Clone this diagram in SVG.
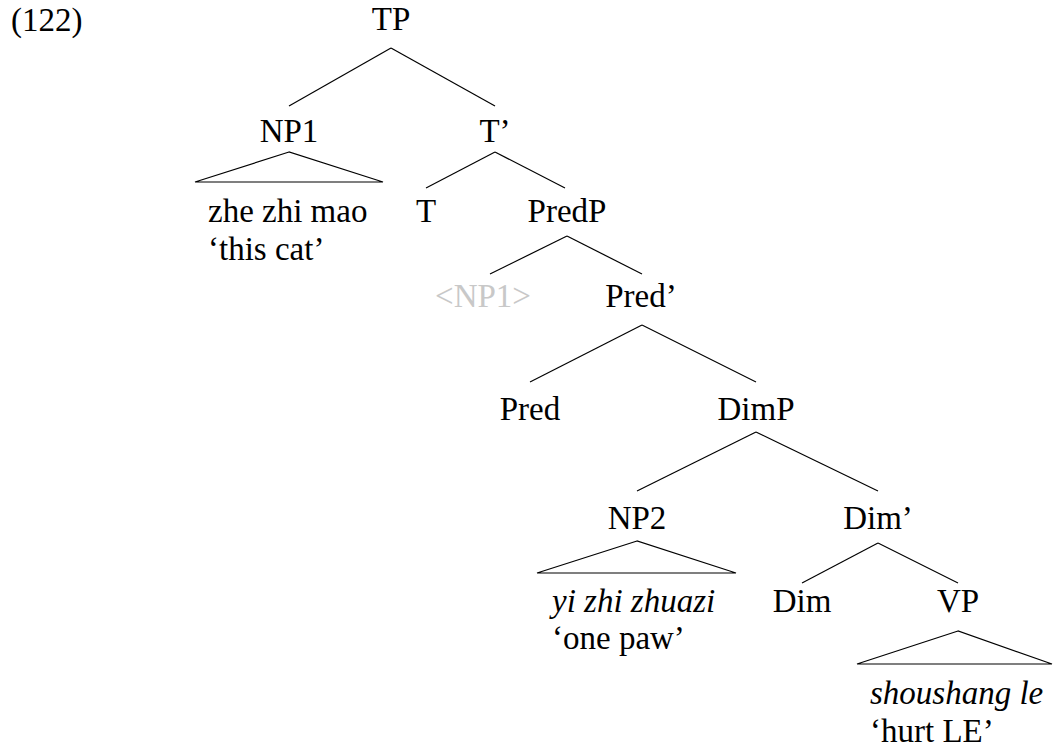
<svg xmlns="http://www.w3.org/2000/svg" width="1053" height="756" viewBox="0 0 1053 756">
<rect width="1053" height="756" fill="#fff"/>
<g font-family="Liberation Serif" font-size="33" fill="#000">
<text x="11" y="31">(122)</text>
<g id="connectors" stroke="#000" stroke-width="1.2" fill="none">
<line x1="391" y1="48" x2="289" y2="106"/>
<line x1="391" y1="48" x2="495" y2="106"/>
<line x1="495" y1="152" x2="426" y2="188"/>
<line x1="495" y1="152" x2="565" y2="188"/>
<line x1="567" y1="236" x2="490" y2="274"/>
<line x1="567" y1="236" x2="642" y2="274"/>
<line x1="642" y1="325" x2="530" y2="382"/>
<line x1="642" y1="325" x2="756" y2="382"/>
<line x1="756" y1="432" x2="637" y2="491"/>
<line x1="756" y1="432" x2="878" y2="491"/>
<line x1="878" y1="543" x2="802" y2="583"/>
<line x1="878" y1="543" x2="958" y2="583"/>
</g>
<g id="TP"><text text-anchor="middle" x="391" y="30">TP</text></g>
<g id="NP1"><text text-anchor="middle" x="289" y="142">NP1</text><polygon points="289,152 195,182 383,182" stroke="#000" stroke-width="1.2" fill="none"/><text x="208" y="222">zhe zhi mao</text><text x="208" y="260">‘this cat’</text></g>
<g id="Tbar"><text text-anchor="middle" x="495" y="142">T’</text></g>
<g id="T"><text text-anchor="middle" x="426" y="222">T</text></g>
<g id="PredP"><text text-anchor="middle" x="567" y="222">PredP</text></g>
<g id="NP1trace"><text text-anchor="middle" fill="#c8c8c8" x="483" y="307">&lt;NP1&gt;</text></g>
<g id="Predbar"><text text-anchor="middle" x="641" y="307">Pred’</text></g>
<g id="Pred"><text text-anchor="middle" x="530" y="420">Pred</text></g>
<g id="DimP"><text text-anchor="middle" x="756" y="420">DimP</text></g>
<g id="NP2"><text text-anchor="middle" x="637" y="529">NP2</text><polygon points="637,541 537,573 736,573" stroke="#000" stroke-width="1.2" fill="none"/><text font-style="italic" x="552" y="612">yi zhi zhuazi</text><text x="552" y="649">‘one paw’</text></g>
<g id="Dimbar"><text text-anchor="middle" x="878" y="529">Dim’</text></g>
<g id="Dim"><text text-anchor="middle" x="802" y="612">Dim</text></g>
<g id="VP"><text text-anchor="middle" x="958" y="612">VP</text><polygon points="958,631 857,664 1052,664" stroke="#000" stroke-width="1.2" fill="none"/><text font-style="italic" x="870" y="704">shoushang le</text><text x="870" y="742">‘hurt LE’</text></g>
</g>
</svg>
